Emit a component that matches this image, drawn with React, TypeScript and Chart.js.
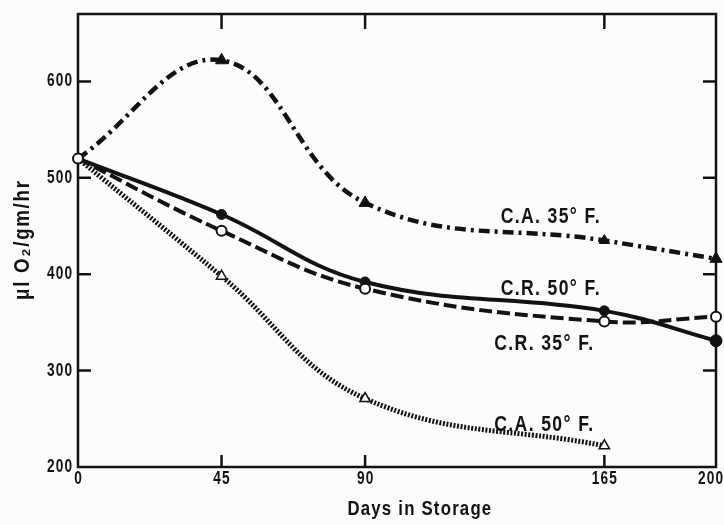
import React, { useEffect, useRef } from "react";
import { Chart, registerables } from "chart.js";

Chart.register(...registerables);

// ---- data ----
const days = [0, 45, 90, 165, 200];
const caF35 = [520, 622, 474, 435, 416];
const cr50 = [520, 462, 392, 362, 331];
const cr35 = [520, 445, 385, 351, 356];
const caF50 = [520, 398, 271, 222, null];

const xTicks = [0, 45, 90, 165, 200];
const yTicks = [200, 300, 400, 500, 600];

const seriesNames = ["C.A. 35° F.", "C.R. 50° F.", "C.R. 35° F.", "C.A. 50° F."];
const labelDays = [148, 148, 146, 146];
const labelValues = [459, 385, 328, 244];

const xTitle = "Days in Storage";
const yTitle = "μl O₂/gm/hr";

const INK = "#121212";
const FONT = "'Liberation Sans', Arial, 'DejaVu Sans', sans-serif";

function drawText(
  ctx: CanvasRenderingContext2D,
  str: string,
  x: number,
  y: number,
  size: number,
  align: CanvasTextAlign,
  spacing: number,
  hscale: number
) {
  ctx.save();
  ctx.font = `bold ${size}px ${FONT}`;
  (ctx as any).letterSpacing = `${spacing}px`;
  ctx.fillStyle = INK;
  ctx.textBaseline = "middle";
  ctx.textAlign = "left";
  const w = ctx.measureText(str).width - spacing;
  ctx.translate(x, y);
  ctx.scale(hscale, 1);
  let sx = 0;
  if (align === "center") sx = -w / 2;
  else if (align === "right") sx = -w;
  ctx.fillText(str, sx, 0);
  ctx.restore();
}

const framePlugin = {
  id: "frame",
  beforeDraw(chart: any) {
    const ctx = chart.ctx;
    ctx.save();
    ctx.fillStyle = "#fcfcfc";
    ctx.fillRect(0, 0, chart.width, chart.height);
    ctx.restore();
  },
  beforeDatasetsDraw(chart: any) {
    const ctx: CanvasRenderingContext2D = chart.ctx;
    const { left, right, top, bottom } = chart.chartArea;
    const xs = chart.scales.x;
    const ys = chart.scales.y;
    ctx.save();
    ctx.strokeStyle = INK;
    ctx.lineWidth = 2.5;
    ctx.strokeRect(left, top, right - left, bottom - top);
    ctx.beginPath();
    for (const v of yTicks) {
      const y = ys.getPixelForValue(v);
      if (Math.abs(y - bottom) < 2 || Math.abs(y - top) < 2) continue;
      ctx.moveTo(left, y);
      ctx.lineTo(left + 13, y);
      ctx.moveTo(right, y);
      ctx.lineTo(right - 13, y);
    }
    for (const v of xTicks) {
      const x = xs.getPixelForValue(v);
      if (Math.abs(x - left) < 2 || Math.abs(x - right) < 2) continue;
      ctx.moveTo(x, bottom);
      ctx.lineTo(x, bottom - 12);
      ctx.moveTo(x, top);
      ctx.lineTo(x, top + 15);
    }
    ctx.stroke();
    ctx.restore();
  },
  afterDraw(chart: any) {
    const ctx: CanvasRenderingContext2D = chart.ctx;
    const { left, right, top, bottom } = chart.chartArea;
    const xs = chart.scales.x;
    const ys = chart.scales.y;
    // y tick labels
    for (const v of yTicks) {
      drawText(ctx, String(v), left - 6, ys.getPixelForValue(v), 18, "right", 1.5, 0.76);
    }
    // x tick labels
    xTicks.forEach((v, i) => {
      const x = xs.getPixelForValue(v);
      if (i === xTicks.length - 1) {
        drawText(ctx, String(v), chart.width - 1, bottom + 12, 18, "right", 1.5, 0.76);
      } else {
        drawText(ctx, String(v), x, bottom + 12, 18, "center", 1.5, 0.76);
      }
    });
    // axis titles
    drawText(ctx, xTitle, left + (right - left) * 0.535, bottom + 42, 21, "center", 1.5, 0.8);
    ctx.save();
    ctx.translate(23, top + (bottom - top) * 0.5);
    ctx.rotate(-Math.PI / 2);
    drawText(ctx, yTitle, 0, 0, 22, "center", 2, 0.85);
    ctx.restore();
    // series labels
    seriesNames.forEach((name, i) => {
      drawText(
        ctx,
        name,
        xs.getPixelForValue(labelDays[i]),
        ys.getPixelForValue(labelValues[i]),
        22,
        "center",
        1.7,
        0.8
      );
    });
  },
};

function pts(vals: (number | null)[]) {
  return days.map((d, i) => ({ x: d, y: vals[i] }));
}

export default function App() {
  const ref = useRef<HTMLCanvasElement | null>(null);
  useEffect(() => {
    document.body.style.margin = "0";
    const canvas = ref.current!;
    const chart = new Chart(canvas, {
      type: "line",
      data: {
        datasets: [
          {
            label: seriesNames[2],
            data: pts(cr35) as any,
            borderColor: INK,
            borderWidth: 4,
            borderDash: [13, 5],
            pointStyle: "circle",
            pointRadius: 5,
            pointBorderWidth: 2,
            pointBackgroundColor: "#ffffff",
            pointBorderColor: INK,
            order: 0,
          },
          {
            label: seriesNames[1],
            data: pts(cr50) as any,
            borderColor: INK,
            borderWidth: 4,
            pointStyle: "circle",
            pointRadius: [0, 5, 5, 5, 6],
            pointBorderWidth: 1,
            pointBackgroundColor: INK,
            pointBorderColor: INK,
            order: 1,
          },
          {
            label: seriesNames[0],
            data: pts(caF35) as any,
            borderColor: INK,
            borderWidth: 4.5,
            borderDash: [11, 5, 3, 5],
            pointStyle: "triangle",
            pointRadius: [0, 7, 7, 6, 7],
            pointBorderWidth: 1,
            pointBackgroundColor: INK,
            pointBorderColor: INK,
            order: 2,
          },
          {
            label: seriesNames[3],
            data: pts(caF50) as any,
            borderColor: INK,
            borderWidth: 5,
            borderDash: [2, 1.6],
            pointStyle: "triangle",
            pointRadius: [0, 6, 6, 6, 0],
            pointBorderWidth: 1.5,
            pointBackgroundColor: "#ffffff",
            pointBorderColor: INK,
            order: 3,
          },
        ],
      },
      options: {
        responsive: false,
        animation: false,
        devicePixelRatio: 1,
        layout: { padding: { left: 78, right: 5, top: 14, bottom: 58 } },
        elements: { line: { tension: 0.4, borderCapStyle: "butt" } },
        plugins: { legend: { display: false }, tooltip: { enabled: false } },
        scales: {
          x: { type: "linear", min: 0, max: 200, display: false },
          y: { type: "linear", min: 200, max: 670, display: false },
        },
        datasets: { line: { clip: false } } as any,
      } as any,
      plugins: [framePlugin],
    });
    return () => chart.destroy();
  }, []);
  return (
    <div style={{ width: 724, height: 525 }}>
      <canvas ref={ref} width={724} height={525} style={{ display: "block" }} />
    </div>
  );
}
